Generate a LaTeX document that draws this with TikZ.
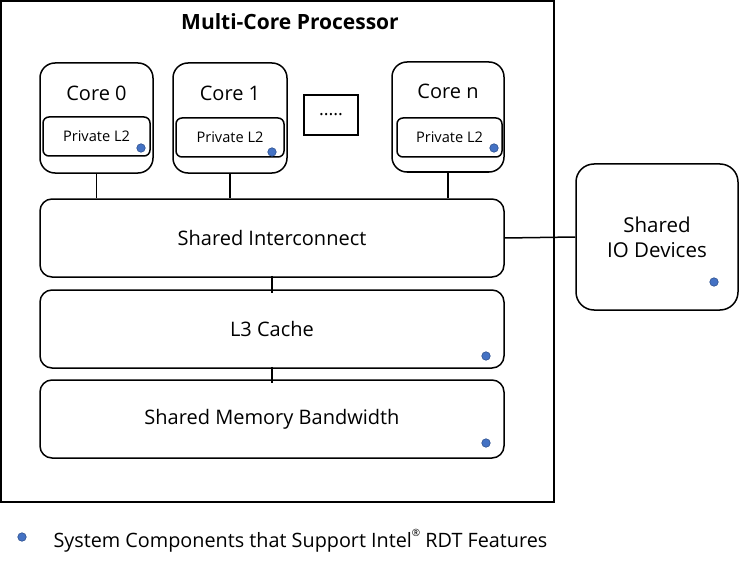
\documentclass[tikz,border=0pt]{standalone}
\usepackage{fontspec}
\setmainfont{Open Sans}
\usetikzlibrary{calc}
\tikzset{
	box/.style={draw, line width=1.5pt, rounded corners=#1, inner sep=0pt},
	box/.default=12pt,
	link/.style={line width=1.5pt},
	rdtdot/.style={circle, fill={rgb,255:red,68;green,114;blue,196}, draw={rgb,255:red,47;green,82;blue,143}, line width=0.6pt, minimum size=8.5pt, inner sep=0pt},
	bigtxt/.style={font=\fontsize{20}{24}\selectfont},
	smalltxt/.style={font=\fontsize{14.6}{17}\selectfont}
}

\begin{document}
\begin{tikzpicture}[x=1pt, y=-1pt]
			%%%%% START %%%%%
			\useasboundingbox (0, 0) rectangle (739, 567);
			
			\draw[line width=1.8pt] (1, 1) rectangle (554, 502);
			\node[font=\bfseries\fontsize{21}{25}\selectfont] (title) at (290, 22) {Multi-Core Processor};
			
			\node[box=15pt, minimum width=113pt, minimum height=110pt] (core0) at (96.5, 118) {};
			\node[box=15pt, minimum width=114pt, minimum height=110pt] (core1) at (230, 118) {};
			\node[box=15pt, minimum width=112pt, minimum height=110pt] (coren) at (448, 117) {};
			\node[bigtxt] at (96.5, 93) {Core 0};
			\node[bigtxt] at (230, 93) {Core 1};
			\node[bigtxt] at (448, 91) {Core n};
			
			\node[box=6pt, minimum width=107pt, minimum height=39pt, smalltxt] (l2a) at (96.5, 136.5) {Private L2};
			\node[box=6pt, minimum width=108pt, minimum height=39pt, smalltxt] (l2b) at (230, 137.5) {Private L2};
			\node[box=6pt, minimum width=105pt, minimum height=39pt, smalltxt] (l2n) at (449.5, 137.5) {Private L2};
			
			\node[draw, line width=1.5pt, minimum width=54pt, minimum height=40pt, font=\fontsize{18}{20}\selectfont] (dots) at (331, 115) {.....};
			
			\node[box, minimum width=464pt, minimum height=78pt, bigtxt] (ic) at (272, 238) {Shared Interconnect};
			\node[box, minimum width=464pt, minimum height=78pt, bigtxt] (l3) at (272, 329) {L3 Cache};
			\node[box, minimum width=464pt, minimum height=78pt, bigtxt] (mb) at (272, 419) {Shared Memory Bandwidth};
			
			\node[box=18pt, minimum width=162pt, minimum height=146pt, font=\fontsize{20.5}{25}\selectfont, align=center] (io) at (657, 237) {Shared\\IO Devices};
			
			\node[rdtdot] (d0) at (141, 148) {};
			\node[rdtdot] (d1) at (272, 152) {};
			\node[rdtdot] (dn) at (494, 148) {};
			\node[rdtdot] (d3) at (486, 356) {};
			\node[rdtdot] (dm) at (486, 443) {};
			\node[rdtdot] (dio) at (714, 282) {};
			
			\draw[link] (core0.south) -- (core0.south |- ic.north);
			\draw[link] (core1.south) -- (core1.south |- ic.north);
			\draw[link] (coren.south) -- (coren.south |- ic.north);
			\draw[link] ($(ic.south)+(0,-2)$) -- ($(l3.north)+(0,4)$);
			\draw[link] ($(l3.south)+(0,-2)$) -- ($(mb.north)+(0,4)$);
			\draw[link] (ic.east) -- (io.west);
			
			\node[rdtdot] (key) at (22, 537) {};
			\node[font=\fontsize{19.8}{24}\selectfont, anchor=west] (keytxt) at (50, 541) {System Components that Support Intel\raisebox{0.55em}{\fontsize{10}{12}\selectfont ®} RDT Features};
			%%%%% END %%%%%
		\end{tikzpicture}
\end{document}
